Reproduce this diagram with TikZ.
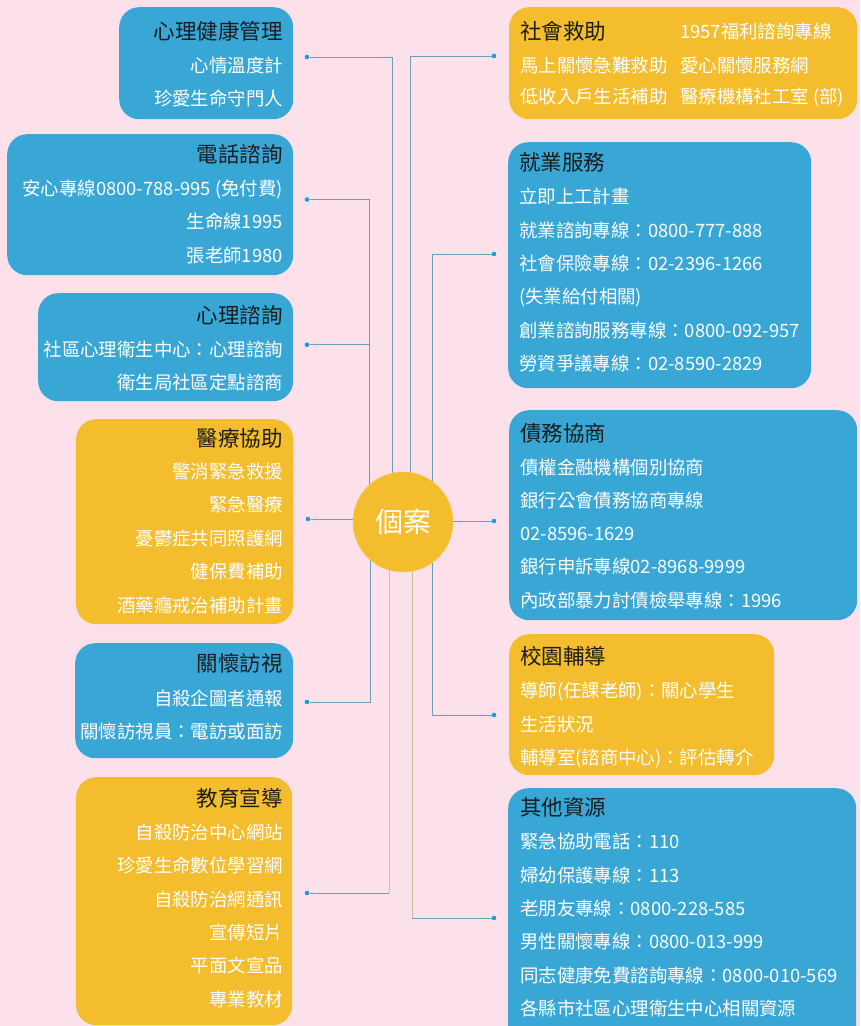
\documentclass[tikz,border=0pt]{standalone}
\usepackage{fontspec}
\setmainfont{Noto Sans CJK TC}
\definecolor{bgpink}{HTML}{FCE1EA}
\definecolor{boxblue}{HTML}{39A7D6}
\definecolor{boxyellow}{HTML}{F3BD2D}
\definecolor{linec}{HTML}{6A9FBA}
\definecolor{linetan}{HTML}{C8C2A2}
\definecolor{dotc}{HTML}{1E9BD7}
\definecolor{ttlc}{HTML}{1C1C1C}
\pgfdeclarelayer{bg}
\pgfsetlayers{bg,main}
\begin{document}
\begin{tikzpicture}[x=1pt,y=-1pt,
  panel/.style={rounded corners=20pt, inner sep=0pt, anchor=north west, draw=none},
  bluepanel/.style={panel, fill=boxblue},
  yellowpanel/.style={panel, fill=boxyellow},
  ttl/.style={font=\fontsize{21.5}{24}\selectfont, text=ttlc, inner sep=0pt},
  bod/.style={font=\fontsize{18.4}{22}\selectfont, text=white, inner sep=0pt},
  lt/.style={anchor=base east},
  rt/.style={anchor=base west},
  dot/.style={circle, fill=dotc, inner sep=0pt, minimum size=4.6pt},
  conn/.style={draw=linec, line width=0.9pt},
  conntan/.style={draw=linetan, line width=0.9pt},
  hub/.style={circle, fill=boxyellow, draw=boxyellow!80!white, line width=0.6pt, minimum size=100pt, inner sep=0pt, text=white, font=\fontsize{28}{32}\selectfont}
]
\useasboundingbox (0,0) rectangle (860,1026);
\begin{pgfonlayer}{bg}
\fill[bgpink] (0,0) rectangle (860,1026);
\end{pgfonlayer}

% ---------- centre ----------
\node[hub] (c) at (403,522) {個案};

% ---------- left panels ----------
\node[bluepanel, minimum width=174pt, minimum height=112pt] (p1) at (119,7) {};
\node[ttl,lt] (p1t) at (283,39) {心理健康管理};
\node[bod,lt] (p1a) at (283,72) {心情溫度計};
\node[bod,lt] (p1b) at (283,105) {珍愛生命守門人};

\node[bluepanel, minimum width=286pt, minimum height=141pt] (p2) at (7,134) {};
\node[ttl,lt] (p2t) at (283,162) {電話諮詢};
\node[bod,lt] (p2a) at (283,195) {安心專線0800-788-995 (免付費)};
\node[bod,lt] (p2b) at (283,228) {生命線1995};
\node[bod,lt] (p2c) at (283,262) {張老師1980};

\node[bluepanel, minimum width=255pt, minimum height=108pt] (p3) at (38,293) {};
\node[ttl,lt] (p3t) at (283,323) {心理諮詢};
\node[bod,lt] (p3a) at (283,356) {社區心理衛生中心：心理諮詢};
\node[bod,lt] (p3b) at (283,389.5) {衛生局社區定點諮商};

\node[yellowpanel, minimum width=217pt, minimum height=205pt] (p4) at (76,419) {};
\node[ttl,lt] (p4t) at (283,446) {醫療協助};
\node[bod,lt] (p4a) at (283,478) {警消緊急救援};
\node[bod,lt] (p4b) at (283,511.5) {緊急醫療};
\node[bod,lt] (p4c) at (283,545) {憂鬱症共同照護網};
\node[bod,lt] (p4d) at (283,578.5) {健保費補助};
\node[bod,lt] (p4e) at (283,612) {酒藥癮戒治補助計畫};

\node[bluepanel, minimum width=218pt, minimum height=115pt] (p5) at (75,643) {};
\node[ttl,lt] (p5t) at (283,671) {關懷訪視};
\node[bod,lt] (p5a) at (283,705) {自殺企圖者通報};
\node[bod,lt] (p5b) at (283,738.5) {關懷訪視員：電訪或面訪};

\node[yellowpanel, minimum width=216pt, minimum height=248pt] (p6) at (76,777) {};
\node[ttl,lt] (p6t) at (283,806.5) {教育宣導};
\node[bod,lt] (p6a) at (283,839) {自殺防治中心網站};
\node[bod,lt] (p6b) at (283,872.7) {珍愛生命數位學習網};
\node[bod,lt] (p6c) at (283,906) {自殺防治網通訊};
\node[bod,lt] (p6d) at (283,939.3) {宣傳短片};
\node[bod,lt] (p6e) at (283,972.7) {平面文宣品};
\node[bod,lt] (p6f) at (283,1006) {專業教材};

% ---------- right panels ----------
\node[yellowpanel, minimum width=348pt, minimum height=112pt] (q1) at (509,7) {};
\node[ttl,rt] (q1t) at (520,39.7) {社會救助};
\node[bod,rt] (q1a) at (520,72) {馬上關懷急難救助};
\node[bod,rt] (q1b) at (520,103.7) {低收入戶生活補助};
\node[bod,rt] (q1c) at (680,38.7) {1957福利諮詢專線};
\node[bod,rt] (q1d) at (680,72) {愛心關懷服務網};
\node[bod,rt] (q1e) at (680,103.7) {醫療機構社工室 (部)};

\node[bluepanel, minimum width=303pt, minimum height=246pt] (q2) at (508,142) {};
\node[ttl,rt] (q2t) at (519,170.5) {就業服務};
\node[bod,rt] (q2a) at (519,203.7) {立即上工計畫};
\node[bod,rt] (q2b) at (519,237) {就業諮詢專線：0800-777-888};
\node[bod,rt] (q2c) at (519,270.3) {社會保險專線：02-2396-1266};
\node[bod,rt] (q2d) at (519,303.7) {(失業給付相關)};
\node[bod,rt] (q2e) at (519,337) {創業諮詢服務專線：0800-092-957};
\node[bod,rt] (q2f) at (519,370.3) {勞資爭議專線：02-8590-2829};

\node[bluepanel, minimum width=348pt, minimum height=210pt] (q3) at (509,410) {};
\node[ttl,rt] (q3t) at (520,441.7) {債務協商};
\node[bod,rt] (q3a) at (520,474.5) {債權金融機構個別協商};
\node[bod,rt] (q3b) at (520,507.8) {銀行公會債務協商專線};
\node[bod,rt] (q3c) at (520,540.3) {02-8596-1629};
\node[bod,rt] (q3d) at (520,573.7) {銀行申訴專線02-8968-9999};
\node[bod,rt] (q3e) at (520,607.8) {內政部暴力討債檢舉專線：1996};

\node[yellowpanel, minimum width=265pt, minimum height=141pt] (q4) at (509,634) {};
\node[ttl,rt] (q4t) at (520,664.7) {校園輔導};
\node[bod,rt] (q4a) at (520,697.5) {導師(任課老師)：關心學生};
\node[bod,rt] (q4b) at (520,731) {生活狀況};
\node[bod,rt] (q4c) at (520,764.5) {輔導室(諮商中心)：評估轉介};

\node[bluepanel, minimum width=348pt, minimum height=260pt] (q5) at (508,788) {};
\node[ttl,rt] (q5t) at (520,815.5) {其他資源};
\node[bod,rt] (q5a) at (520,848.7) {緊急協助電話：110};
\node[bod,rt] (q5b) at (520,882) {婦幼保護專線：113};
\node[bod,rt] (q5c) at (520,915.3) {老朋友專線：0800-228-585};
\node[bod,rt] (q5d) at (520,948.7) {男性關懷專線：0800-013-999};
\node[bod,rt] (q5e) at (520,982) {同志健康免費諮詢專線：0800-010-569};
\node[bod,rt] (q5f) at (520,1015.3) {各縣市社區心理衛生中心相關資源};

% ---------- dots and corners ----------
\node[dot] (d1) at (307,57) {};
\node[dot] (d2) at (307,199.5) {};
\node[dot] (d3) at (307,344.7) {};
\node[dot] (d4) at (308,519) {};
\node[dot] (d5) at (307,702) {};
\node[dot] (d6) at (307,893) {};
\node[dot] (e1) at (494,56) {};
\node[dot] (e2) at (494,254) {};
\node[dot] (e3) at (494,521) {};
\node[dot] (e4) at (494,715) {};
\node[dot] (e5) at (494,918) {};

\coordinate (k1) at (392,57);
\coordinate (k2) at (369,199.5);
\coordinate (k3) at (369,344.7);
\coordinate (k5) at (370,702);
\coordinate (k6) at (389,893);
\coordinate (m1) at (410,56);
\coordinate (m2) at (432,254);
\coordinate (m4) at (432,715);
\coordinate (m5) at (412,918);

% ---------- connectors (behind everything) ----------
\begin{pgfonlayer}{bg}
\draw[conn] (d1) -- (k1) -- (k1 |- c);
\draw[conn] (d2) -- (k2) -- (k2 |- c);
\draw[conn] (d3) -- (k3);
\draw[conn] (d4) -- (d4 -| c);
\draw[conn] (d5) -- (k5) -- (k5 |- c);
\draw[conn] (d6) -- (k6);
\draw[conntan] (k6) -- (k6 |- c);
\draw[conn] (e1) -- (m1) -- (m1 |- c);
\draw[conn] (e2) -- (m2) -- (m4);
\draw[conn] (e3) -- (e3 -| c);
\draw[conn] (e4) -- (m4);
\draw[conn] (e5) -- (m5);
\draw[conntan] (m5) -- (m5 |- c);
\end{pgfonlayer}
\end{tikzpicture}
\end{document}
